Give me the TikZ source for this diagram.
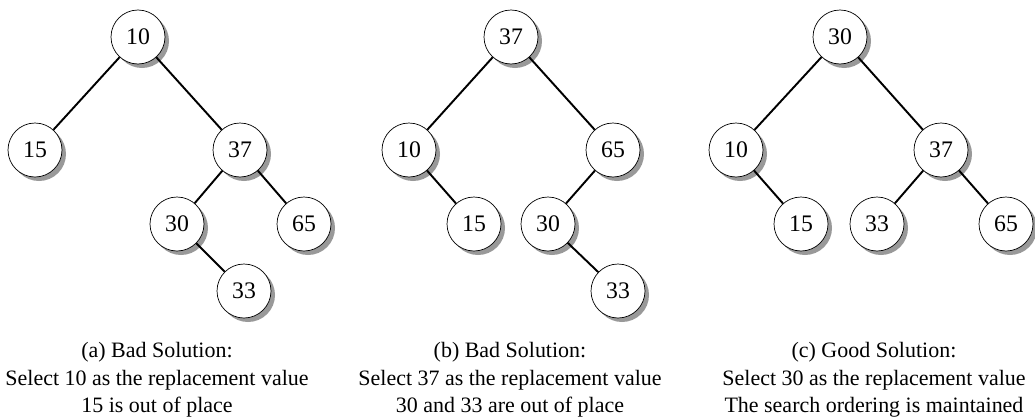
\documentclass[tikz,border=0pt]{standalone}
\usepackage{fontspec}
\setmainfont{Liberation Serif}
\usetikzlibrary{shadows}

\begin{document}
\begin{tikzpicture}[
  every node/.style={font=\fontsize{12.5}{15.6}\selectfont},
  key/.style={
    draw, circle, thin, fill=white,
    font=\fontsize{13.5}{16}\selectfont,
    minimum size=1.08cm, inner sep=0pt,
    drop shadow={shadow xshift=0.08cm, shadow yshift=-0.08cm,
      fill=black!40, opacity=1}
  },
  link/.style={line width=1.1pt},
  caption/.style={align=center, anchor=north, inner sep=0pt}
]
\useasboundingbox (0,0) rectangle (20.7,-8.34);

% (a) bad solution
\node[key] (a10) at (2.76,-0.74) {10};
\node[key] (a15) at (0.70,-3.00) {15};
\node[key] (a37) at (4.80,-3.00) {37};
\node[key] (a30) at (3.54,-4.48) {30};
\node[key] (a65) at (6.08,-4.48) {65};
\node[key] (a33) at (4.88,-5.82) {33};

\draw[link] (a10) -- (a15);
\draw[link] (a10) -- (a37);
\draw[link] (a37) -- (a30);
\draw[link] (a37) -- (a65);
\draw[link] (a30) -- (a33);

\node[caption] (capa) at (3.14,-6.84)
  {(a) Bad Solution:\\Select 10 as the replacement value\\15 is out of place};

% (b) bad solution
\node[key] (b37) at (10.22,-0.74) {37};
\node[key] (b10) at (8.18,-3.00) {10};
\node[key] (b65) at (12.26,-3.00) {65};
\node[key] (b15) at (9.48,-4.48) {15};
\node[key] (b30) at (10.96,-4.48) {30};
\node[key] (b33) at (12.36,-5.82) {33};

\draw[link] (b37) -- (b10);
\draw[link] (b37) -- (b65);
\draw[link] (b10) -- (b15);
\draw[link] (b65) -- (b30);
\draw[link] (b30) -- (b33);

\node[caption] (capb) at (10.20,-6.84)
  {(b) Bad Solution:\\Select 37 as the replacement value\\30 and 33 are out of place};

% (c) good solution
\node[key] (c30) at (16.80,-0.74) {30};
\node[key] (c10) at (14.72,-3.00) {10};
\node[key] (c37) at (18.82,-3.00) {37};
\node[key] (c15) at (16.02,-4.48) {15};
\node[key] (c33) at (17.54,-4.48) {33};
\node[key] (c65) at (20.12,-4.48) {65};

\draw[link] (c30) -- (c10);
\draw[link] (c30) -- (c37);
\draw[link] (c10) -- (c15);
\draw[link] (c37) -- (c33);
\draw[link] (c37) -- (c65);

\node[caption] (capc) at (17.48,-6.84)
  {(c) Good Solution:\\Select 30 as the replacement value\\The search ordering is maintained};

\end{tikzpicture}
\end{document}
